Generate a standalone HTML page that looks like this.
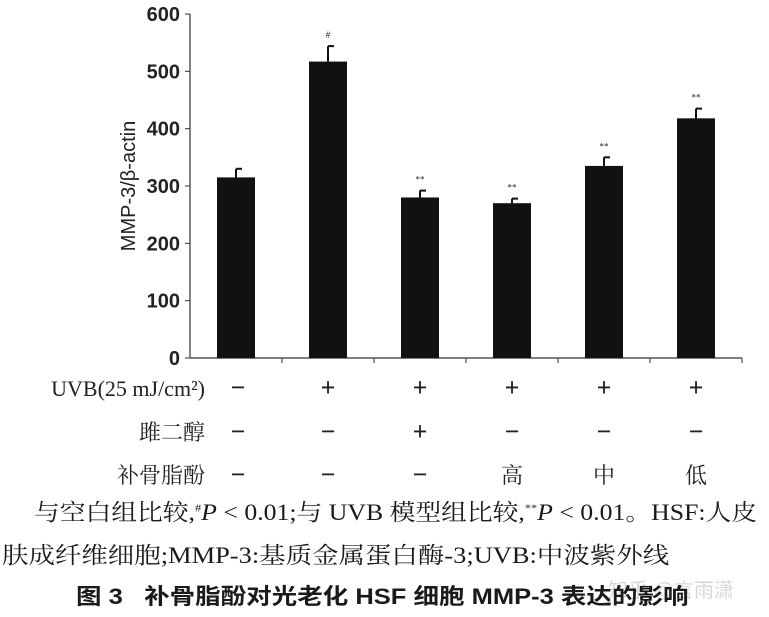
<!DOCTYPE html>
<html><head><meta charset="utf-8"><style>
body{margin:0;background:#fff;width:769px;height:617px;overflow:hidden;position:relative;font-family:"Liberation Serif","Noto Serif CJK SC",serif;color:#1a1a1a}
.t{position:absolute;white-space:nowrap;transform-origin:0 0}
</style></head><body>
<svg width="769" height="617" style="position:absolute;left:0;top:0">
<g id="axes" font-family="Liberation Sans, sans-serif"></g>
<g id="bars"></g>
<g id="rows" font-family="Liberation Serif, Noto Serif CJK SC, serif"></g>
</svg>
<div class="t" style="left:34px;top:494px;font-size:23px;transform:scaleX(1.12)">与空白组比较,<sup style="font-size:11px">#</sup><i>P</i> &lt; 0.01;与 UVB 模型组比较,<sup style="font-size:11px">**</sup><i>P</i> &lt; 0.01。HSF:人皮</div>
<div class="t" style="left:2px;top:537px;font-size:23px;transform:scaleX(1.15)">肤成纤维细胞;MMP-3:基质金属蛋白酶-3;UVB:中波紫外线</div>
<div class="t" style="left:608px;top:574px;font-size:20px;color:#d8d8d8;font-family:'Liberation Sans','Noto Sans CJK SC',sans-serif">知乎 @言雨潇</div>
<div class="t" style="left:76px;top:579px;font-size:22px;font-weight:bold;font-family:'Liberation Sans','Noto Sans CJK SC',sans-serif;transform:scaleX(1.16)">图 3 &nbsp;&nbsp;补骨脂酚对光老化 HSF 细胞 MMP-3 表达的影响</div>
<script>
const categories=["blank","UVB","estradiol","high","mid","low"];
const values=[315,517,280,270,335,418];
const errors=[15,27,12,8,15,17];
const marks=["","#","**","**","**","**"];
const yTicks=[0,100,200,300,400,500,600];
const uvbRow=["−","+","+","+","+","+"];
const e2Row=["−","−","+","−","−","−"];
const bgRow=["−","−","−","高","中","低"];
const NS="http://www.w3.org/2000/svg";
const x0=190,y0=358,yTop=14,step=92,bw=38;
const y=v=>y0-(v/600)*(y0-yTop);
const cx=i=>x0+step*(i+0.5);
function mk(t,a,p){const e=document.createElementNS(NS,t);for(const k in a)e.setAttribute(k,a[k]);p.appendChild(e);return e;}
const ax=document.getElementById('axes'),bg=document.getElementById('bars'),rg=document.getElementById('rows');
let l=mk('line',{x1:x0,y1:yTop,x2:x0,y2:y0,stroke:'#333','stroke-width':1.2},ax);

l=mk('line',{x1:x0,y1:y0,x2:x0+step*6,y2:y0,stroke:'#333','stroke-width':1.2},ax);

yTicks.forEach(v=>{
 let tk=mk('line',{x1:x0-5,y1:y(v),x2:x0,y2:y(v),stroke:'#333'},ax);
 
 let t=mk('text',{x:x0-10,y:y(v)+7,'text-anchor':'end','font-size':20,'font-weight':'bold',fill:'#222'},ax);t.textContent=v;
 
});
for(let i=1;i<=6;i++){let tk=mk('line',{x1:x0+step*i,y1:y0,x2:x0+step*i,y2:y0+5,stroke:'#333'},ax);
 }
let yt=mk('text',{x:0,y:0,transform:'translate(135,186) rotate(-90)','text-anchor':'middle','font-size':20,fill:'#222'},ax);
yt.textContent='MMP-3/β-actin';

values.forEach((v,i)=>{
 const c=cx(i);
 let e=mk('line',{x1:c,y1:y(v),x2:c,y2:y(v+errors[i]),stroke:'#111','stroke-width':2},bg);
 
 let cap=mk('line',{x1:c,y1:y(v+errors[i]),x2:c+6,y2:y(v+errors[i]),stroke:'#111','stroke-width':2},bg);
 
 let r=mk('rect',{x:c-bw/2,y:y(v),width:bw,height:y0-y(v),fill:'#111'},bg);
 
 let m=mk('text',{x:c,y:y(v+errors[i])-8,'text-anchor':'middle','font-size':9,fill:'#222'},bg);m.textContent=marks[i];
 
});
const rows=[["UVB(25 mJ/cm²)",uvbRow,396],["雎二醇",e2Row,440],["补骨脂酚",bgRow,483]];
rows.forEach(([lab,arr,yy],ri)=>{
 let t=mk('text',{x:205,y:yy,'text-anchor':'end','font-size':22,fill:'#222'},rg);t.textContent=lab;
 
 arr.forEach((s,i)=>{let tt=mk('text',{x:cx(i)+(i==0?2:0),y:yy,'text-anchor':'middle','font-size':/[+−]/.test(s)?26:22,'font-weight':/[+−]/.test(s)?'bold':'normal',fill:'#222'},rg);
  tt.textContent=s;});
});
</script>
</body></html>
